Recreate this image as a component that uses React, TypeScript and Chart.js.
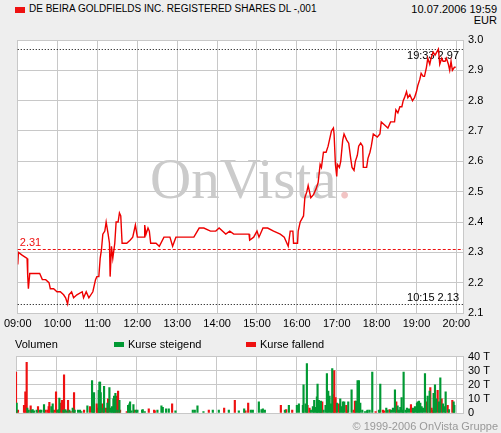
import React, { useEffect, useRef } from "react";
import { Chart, registerables } from "chart.js";

Chart.register(...registerables);

// ---------- data ----------
const titleText = "DE BEIRA GOLDFIELDS INC. REGISTERED SHARES DL -,001";
const dateText = "10.07.2006 19:59";
const currencyText = "EUR";
const footerText = "© 1999-2006 OnVista Gruppe";
const watermarkText = "OnVista";
const volumeTitle = "Volumen";
const legendUp = "Kurse steigend";
const legendDown = "Kurse fallend";

const hourLabels = ["09:00", "10:00", "11:00", "12:00", "13:00", "14:00", "15:00", "16:00", "17:00", "18:00", "19:00", "20:00"];
const axisStart = "09:00";
const axisEnd = "20:10";
const priceTicks = [2.1, 2.2, 2.3, 2.4, 2.5, 2.6, 2.7, 2.8, 2.9, 3.0];
const volumeTicks = [0, 10, 20, 30, 40];
const volumeTickLabels = ["0", "10 T", "20 T", "30 T", "40 T"];

const previousClose = 2.31;
const extremeTimes = ["19:33", "10:15"];
const extremeValues = [2.97, 2.13];

const priceTimes = [
  "09:00", "09:01", "09:07", "09:14", "09:15", "09:16", "09:18", "09:21", "09:33", "09:37",
  "09:42", "09:47", "09:49", "09:54", "09:59", "10:04", "10:09", "10:12", "10:15", "10:17",
  "10:21", "10:24", "10:29", "10:37", "10:39", "10:43", "10:47", "10:53", "10:57", "10:59",
  "11:02", "11:04", "11:06", "11:08", "11:11", "11:13", "11:16", "11:18", "11:19", "11:21",
  "11:23", "11:26", "11:28", "11:31", "11:33", "11:35", "11:37", "11:44", "11:49", "11:53",
  "11:57", "12:00", "12:10", "12:11", "12:13", "12:16", "12:18", "12:20", "12:28", "12:33",
  "12:40", "12:49", "12:53", "12:58", "13:25", "13:33", "13:40", "13:50", "13:58", "14:03",
  "14:13", "14:19", "14:25", "14:48", "14:49", "14:55", "15:00", "15:03", "15:09", "15:16",
  "15:25", "15:35", "15:41", "15:47", "15:50", "15:54", "15:55", "16:01", "16:02", "16:05",
  "16:10", "16:12", "16:15", "16:17", "16:21", "16:25", "16:29", "16:32", "16:35", "16:37",
  "16:40", "16:44", "16:47", "16:50", "16:52", "16:55", "16:56", "16:58", "17:00", "17:01",
  "17:04", "17:06", "17:09", "17:11", "17:15", "17:18", "17:21", "17:23", "17:26", "17:28",
  "17:31", "17:33", "17:36", "17:39", "17:40", "17:45", "17:47", "17:50", "17:52", "17:55",
  "18:01", "18:05", "18:07", "18:12", "18:17", "18:21", "18:27", "18:29", "18:32", "18:35",
  "18:38", "18:40", "18:42", "18:45", "18:47", "18:50", "18:54", "18:57", "19:00", "19:02",
  "19:05", "19:07", "19:10", "19:12", "19:15", "19:17", "19:20", "19:22", "19:25", "19:28",
  "19:33", "19:35", "19:38", "19:40", "19:43", "19:45", "19:48", "19:50", "19:52", "19:54",
  "19:57", "19:59",
];
const priceValues = [
  2.26, 2.30, 2.29, 2.28, 2.22, 2.18, 2.23, 2.23, 2.23, 2.21,
  2.21, 2.20, 2.18, 2.18, 2.17, 2.17, 2.16, 2.15, 2.13, 2.16,
  2.17, 2.15, 2.16, 2.17, 2.15, 2.17, 2.15, 2.17, 2.21, 2.22,
  2.22, 2.28, 2.31, 2.36, 2.37, 2.40, 2.36, 2.33, 2.22, 2.32,
  2.28, 2.33, 2.40, 2.40, 2.43, 2.42, 2.33, 2.33, 2.34, 2.35,
  2.39, 2.35, 2.35, 2.39, 2.36, 2.38, 2.37, 2.33, 2.33, 2.32,
  2.35, 2.35, 2.32, 2.35, 2.35, 2.38, 2.38, 2.37, 2.37, 2.38,
  2.36, 2.37, 2.36, 2.36, 2.34, 2.35, 2.37, 2.35, 2.38, 2.38,
  2.37, 2.36, 2.35, 2.32, 2.37, 2.37, 2.33, 2.33, 2.37, 2.40,
  2.42, 2.48, 2.50, 2.52, 2.48, 2.49, 2.51, 2.53, 2.59, 2.58,
  2.63, 2.63, 2.65, 2.68, 2.70, 2.71, 2.69, 2.59, 2.55, 2.59,
  2.58, 2.60, 2.67, 2.69, 2.67, 2.66, 2.61, 2.58, 2.57, 2.60,
  2.62, 2.65, 2.66, 2.65, 2.58, 2.58, 2.61, 2.63, 2.65, 2.69,
  2.68, 2.69, 2.73, 2.72, 2.71, 2.73, 2.73, 2.77, 2.76, 2.78,
  2.78, 2.80, 2.81, 2.83, 2.81, 2.82, 2.80, 2.81, 2.83, 2.85,
  2.87, 2.89, 2.88, 2.88, 2.91, 2.94, 2.92, 2.94, 2.96, 2.95,
  2.97, 2.92, 2.94, 2.93, 2.93, 2.94, 2.92, 2.90, 2.93, 2.90,
  2.91, 2.91,
];

const volUpTimes = [
  "09:01", "09:17", "09:19", "09:23", "09:25", "09:27", "09:31", "09:36", "09:38", "09:42",
  "09:53", "09:55", "10:02", "10:04", "10:05", "10:11", "10:14", "10:16", "10:20", "10:25",
  "10:28", "10:33", "10:36", "10:38", "10:47", "10:54", "10:56", "10:57", "11:04", "11:05",
  "11:06", "11:07", "11:11", "11:12", "11:17", "11:20", "11:22", "11:24", "11:26", "11:27",
  "11:29", "11:32", "11:35", "11:48", "11:50", "11:51", "11:53", "11:56", "12:00", "12:02",
  "12:09", "12:10", "12:13", "12:32", "12:38", "12:40", "12:45", "12:49", "12:59", "13:25",
  "13:28", "13:32", "13:41", "13:55", "14:04", "14:19", "14:34", "14:42", "14:52", "14:55",
  "15:04", "15:08", "15:10", "15:13", "15:43", "15:49", "16:01", "16:04", "16:10", "16:11",
  "16:14", "16:16", "16:22", "16:25", "16:27", "16:29", "16:31", "16:32", "16:34", "16:36",
  "16:37", "16:41", "16:44", "16:46", "16:48", "16:50", "16:52", "16:54", "17:01", "17:06",
  "17:08", "17:10", "17:12", "17:18", "17:23", "17:30", "17:32", "17:34", "17:36", "17:39",
  "17:43", "17:46", "17:47", "17:50", "17:54", "18:04", "18:06", "18:15", "18:17", "18:22",
  "18:25", "18:28", "18:32", "18:34", "18:36", "18:38", "18:40", "18:41", "18:44", "18:46",
  "18:49", "18:55", "18:56", "18:58", "19:01", "19:02", "19:04", "19:06", "19:08", "19:10",
  "19:13", "19:17", "19:20", "19:26", "19:28", "19:30", "19:34", "19:36", "19:40", "19:43",
  "19:44", "19:49", "19:56", "19:57",
];
const volUpValues = [
  7, 3.5, 2, 2, 2.5, 1.5, 2, 2, 2, 6,
  4.5, 6.5, 2, 2.5, 10.5, 2, 2.5, 1.5, 2, 3.5,
  2, 2, 2, 1, 5, 23, 5.5, 14.5, 16, 22,
  22, 14.5, 3.5, 19, 7, 18, 3.5, 4.5, 10, 12,
  14, 2, 9, 5.5, 6.5, 8, 1.5, 6, 2, 2,
  2, 2.5, 1, 2, 5, 4, 3, 3, 1.5, 2,
  2, 5, 1, 2, 2, 2, 1.5, 3, 2, 2,
  8, 2.5, 3, 2, 2, 5.5, 5.5, 6.5, 5.5, 20,
  6.5, 35, 2, 4.5, 9, 4, 11.5, 20.5, 9, 5.5,
  8.5, 2, 5.5, 28, 15.5, 12, 6.5, 31.5, 7, 10,
  4.5, 8, 8, 8, 16.5, 8.5, 23, 23, 7, 2,
  1, 1.5, 2, 2, 29, 2, 20.5, 3.5, 2, 2,
  3.5, 16.5, 5, 2, 4, 11, 2, 29, 2, 3.5,
  3, 3.5, 2, 4.5, 7, 8, 8.5, 7, 4.5, 3.5,
  28, 12, 15.5, 14, 20, 10, 8, 25, 6.5, 4.5,
  15, 2.5, 8, 5.5,
];

const volDownTimes = [
  "09:00", "09:03", "09:12", "09:14", "09:16", "09:22", "09:33", "09:44", "09:47", "09:49",
  "09:50", "09:57", "10:00", "10:07", "10:09", "10:12", "10:18", "10:22", "10:27", "10:42",
  "10:51", "11:01", "11:02", "11:09", "11:15", "11:18", "11:30", "11:33", "11:36", "11:46",
  "11:57", "12:19", "12:27", "12:28", "12:54", "13:49", "14:12", "14:28", "14:44", "14:48",
  "15:37", "15:45", "15:54", "16:17", "16:20", "16:39", "16:56", "16:57", "16:59", "17:04",
  "17:15", "17:16", "17:26", "17:28", "17:59", "18:10", "18:12", "18:20", "18:30", "18:52",
  "19:16", "19:21", "19:23", "19:25", "19:32", "19:38", "19:47", "19:54",
];
const volDownValues = [
  29, 2, 5.5, 15, 36, 5, 4.5, 2, 2, 4.5,
  7.5, 2, 15, 7, 9, 27, 9, 1, 14.5, 2,
  4.5, 6.5, 3.5, 6.5, 3.5, 10, 12, 15.5, 2, 1,
  2, 3, 2, 1.5, 6.5, 2, 3.5, 9, 1.5, 7,
  5.5, 2.5, 2, 5.5, 3.5, 8, 13, 30, 11, 6.5,
  5.5, 2, 2, 8.5, 1, 2, 1.5, 2.5, 8, 6,
  8, 18, 3.5, 2, 16, 10, 5.5, 9,
];

// ---------- helpers ----------
const toMin = (s: string) => {
  const [h, m] = s.split(":").map(Number);
  return (h - 9) * 60 + m;
};
const fmtTime = (v: number) => {
  const h = Math.floor(v / 60) + 9;
  const m = Math.round(v % 60);
  return `${String(h).padStart(2, "0")}:${String(m).padStart(2, "0")}`;
};

const FONT = 'Arial, "Liberation Sans", sans-serif';
const GRID = "#c8c8c8";
const RED = "#ee1111";
const GREEN = "#009933";
const BG = "#eeeeee";

const plotBgPlugin = {
  id: "plotBg",
  beforeDraw(chart: any) {
    const { ctx, chartArea: a } = chart;
    ctx.save();
    ctx.fillStyle = "#ffffff";
    ctx.fillRect(a.left, a.top, a.right - a.left, a.bottom - a.top);
    ctx.restore();
  },
};

const pricePlugin = {
  id: "priceExtras",
  beforeDatasetsDraw(chart: any) {
    const { ctx, chartArea: a, scales } = chart;
    const y = scales.y;
    ctx.save();
    // watermark
    ctx.font = `57px "Liberation Serif", "Times New Roman", serif`;
    ctx.textBaseline = "alphabetic";
    ctx.textAlign = "left";
    ctx.fillStyle = "#cbcbcb";
    const wx = 150;
    const wy = 198;
    ctx.fillText(watermarkText, wx, wy);
    const w = ctx.measureText(watermarkText).width;
    ctx.fillStyle = "#f2c4c4";
    ctx.fillText(".", wx + w + 1, wy);

    // previous close
    const py = Math.round(y.getPixelForValue(previousClose)) + 0.5;
    ctx.strokeStyle = RED;
    ctx.lineWidth = 1;
    ctx.setLineDash([3, 2]);
    ctx.beginPath();
    ctx.moveTo(a.left, py);
    ctx.lineTo(a.right, py);
    ctx.stroke();
    ctx.font = `11px ${FONT}`;
    ctx.fillStyle = RED;
    ctx.textBaseline = "bottom";
    ctx.textAlign = "left";
    ctx.fillText(previousClose.toFixed(2), a.left + 2, py - 1);

    // extremes
    ctx.strokeStyle = "#000000";
    ctx.setLineDash([1, 2]);
    extremeValues.forEach((v, i) => {
      const ey = Math.round(y.getPixelForValue(v)) + 0.5;
      ctx.beginPath();
      ctx.moveTo(a.left, ey);
      ctx.lineTo(a.right, ey);
      ctx.stroke();
      ctx.fillStyle = "#000000";
      ctx.textAlign = "right";
      const label = `${extremeTimes[i]} ${v.toFixed(2)}`;
      if (i === 0) {
        ctx.textBaseline = "top";
        ctx.fillText(label, a.right - 4, ey + 1);
      } else {
        ctx.textBaseline = "bottom";
        ctx.fillText(label, a.right - 4, ey - 1);
      }
    });
    ctx.restore();
  },
};

const hourTicks = hourLabels.map((h) => ({ value: toMin(h) }));

function App() {
  const priceRef = useRef<HTMLCanvasElement>(null);
  const volRef = useRef<HTMLCanvasElement>(null);

  useEffect(() => {
    Chart.defaults.font.family = FONT;
    Chart.defaults.font.size = 11;
    Chart.defaults.color = "#000000";

    const xMin = toMin(axisStart);
    const xMax = toMin(axisEnd);

    const priceChart = new Chart(priceRef.current!, {
      type: "line",
      data: {
        datasets: [
          {
            data: priceTimes.map((t, i) => ({ x: toMin(t), y: priceValues[i] })),
            borderColor: "#ee0000",
            borderWidth: 1.4,
            pointRadius: 0,
            tension: 0,
            fill: false,
          },
        ],
      },
      options: {
        animation: false,
        responsive: false,
        maintainAspectRatio: false,
        layout: { padding: { left: 16, top: 40, right: 0, bottom: 0 } },
        plugins: { legend: { display: false }, tooltip: { enabled: false } },
        scales: {
          x: {
            type: "linear",
            min: xMin,
            max: xMax,
            afterBuildTicks: (s: any) => {
              s.ticks = hourTicks.map((t) => ({ ...t }));
            },
            afterFit: (s: any) => {
              s.height = 27;
            },
            grid: { color: GRID, drawTicks: false },
            border: { color: GRID },
            ticks: {
              padding: 4,
              maxRotation: 0,
              autoSkip: false,
              callback: (v: any) => fmtTime(Number(v)),
              font: { size: 11, family: FONT },
              color: "#000",
            },
          },
          y: {
            position: "right",
            min: priceTicks[0],
            max: priceTicks[priceTicks.length - 1],
            afterBuildTicks: (s: any) => {
              s.ticks = priceTicks.map((v) => ({ value: v }));
            },
            afterFit: (s: any) => {
              s.width = 38;
            },
            grid: { color: GRID, drawTicks: false },
            border: { color: GRID },
            ticks: {
              padding: 5,
              autoSkip: false,
              callback: (v: any) => Number(v).toFixed(1),
              font: { size: 11, family: FONT },
              color: "#000",
            },
          },
        },
      },
      plugins: [plotBgPlugin, pricePlugin],
    } as any);

    const volChart = new Chart(volRef.current!, {
      type: "bar",
      data: {
        datasets: [
          {
            label: legendUp,
            data: volUpTimes.map((t, i) => ({ x: toMin(t), y: volUpValues[i] })),
            backgroundColor: GREEN,
            barThickness: 1.5,
            grouped: false,
          },
          {
            label: legendDown,
            data: volDownTimes.map((t, i) => ({ x: toMin(t), y: volDownValues[i] })),
            backgroundColor: RED,
            barThickness: 1.5,
            grouped: false,
          },
        ],
      },
      options: {
        animation: false,
        responsive: false,
        maintainAspectRatio: false,
        layout: { padding: { left: 16, top: 8, right: 0, bottom: 0 } },
        plugins: { legend: { display: false }, tooltip: { enabled: false } },
        scales: {
          x: {
            type: "linear",
            min: xMin,
            max: xMax,
            offset: false,
            afterBuildTicks: (s: any) => {
              s.ticks = hourTicks.map((t) => ({ ...t }));
            },
            afterFit: (s: any) => {
              s.height = 20;
            },
            grid: { color: GRID, drawTicks: false, offset: false },
            border: { color: GRID },
            ticks: { display: false },
          },
          y: {
            position: "right",
            min: volumeTicks[0],
            max: volumeTicks[volumeTicks.length - 1],
            afterBuildTicks: (s: any) => {
              s.ticks = volumeTicks.map((v) => ({ value: v }));
            },
            afterFit: (s: any) => {
              s.width = 38;
            },
            grid: { color: GRID, drawTicks: false },
            border: { color: GRID },
            ticks: {
              padding: 5,
              autoSkip: false,
              callback: (v: any) => volumeTickLabels[volumeTicks.indexOf(Number(v))] ?? "",
              font: { size: 11, family: FONT },
              color: "#000",
            },
          },
        },
      },
      plugins: [plotBgPlugin],
    } as any);

    return () => {
      priceChart.destroy();
      volChart.destroy();
    };
  }, []);

  const txt: React.CSSProperties = {
    position: "absolute",
    fontFamily: FONT,
    fontSize: 11,
    lineHeight: "12px",
    whiteSpace: "nowrap",
    color: "#000",
  };

  return (
    <div
      style={{
        position: "absolute",
        left: 0,
        top: 0,
        width: 501,
        height: 433,
        background: BG,
        overflow: "hidden",
      }}
    >
      <div style={{ position: "absolute", left: 15, top: 7, width: 10, height: 6, background: RED }} />
      <div style={{ ...txt, left: 29, top: 3, fontSize: 10 }}>{titleText}</div>
      <div style={{ ...txt, right: 4, top: 3, textAlign: "right" }}>{dateText}</div>
      <div style={{ ...txt, right: 4, top: 14, textAlign: "right" }}>{currencyText}</div>

      <canvas
        ref={priceRef}
        width={501}
        height={340}
        style={{ position: "absolute", left: 0, top: 0, width: 501, height: 340 }}
      />

      <div style={{ ...txt, left: 15, top: 338 }}>{volumeTitle}</div>
      <div style={{ position: "absolute", left: 114, top: 342, width: 10, height: 5, background: GREEN }} />
      <div style={{ ...txt, left: 128, top: 338 }}>{legendUp}</div>
      <div style={{ position: "absolute", left: 246, top: 342, width: 10, height: 5, background: RED }} />
      <div style={{ ...txt, left: 260, top: 338 }}>{legendDown}</div>

      <canvas
        ref={volRef}
        width={501}
        height={88}
        style={{ position: "absolute", left: 0, top: 345, width: 501, height: 88 }}
      />

      <div style={{ ...txt, right: 3, top: 420, color: "#999999", textAlign: "right" }}>{footerText}</div>
    </div>
  );
}

export default App;
